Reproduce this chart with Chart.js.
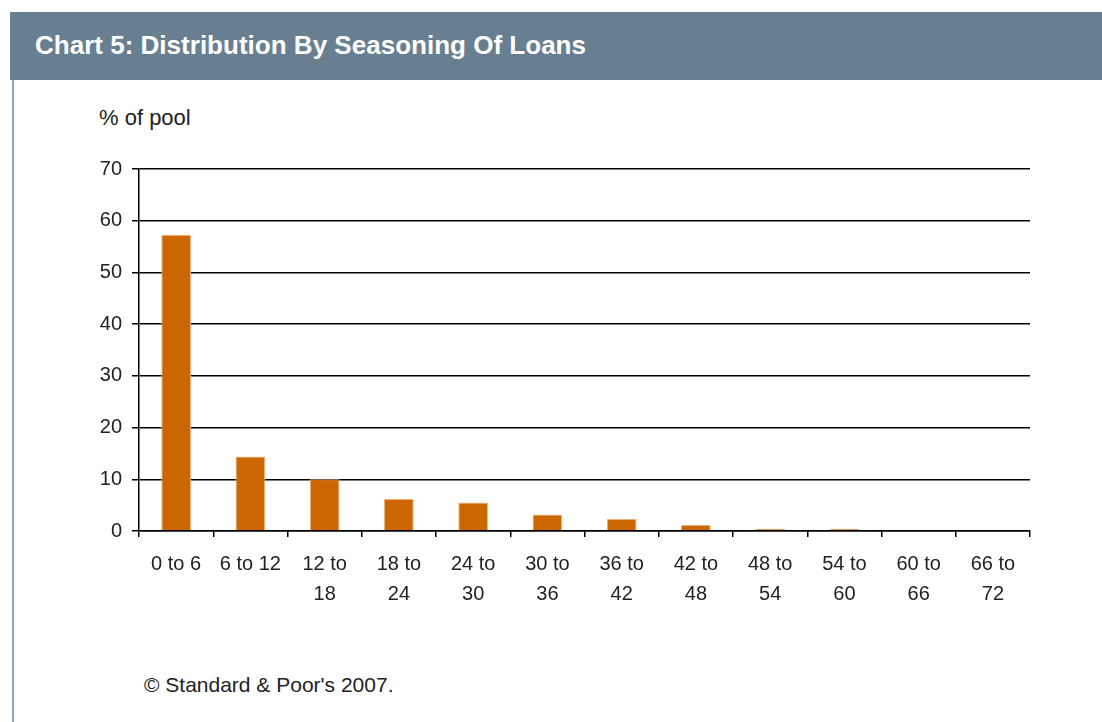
<!DOCTYPE html>
<html>
<head>
<meta charset="utf-8">
<script src="https://cdn.jsdelivr.net/npm/chart.js@4.4.1/dist/chart.umd.min.js"></script>
<style>
  html, body { margin: 0; padding: 0; background: #fff; }
  body { width: 1102px; height: 722px; position: relative; overflow: hidden; font-family: "Liberation Sans", Arial, sans-serif; }
  #titlebar {
    position: absolute; left: 10px; top: 12px; width: 1092px; height: 68px;
    background: #677f91;
  }
  #title {
    position: absolute; left: 25px; top: 0; line-height: 66px; white-space: nowrap;
    color: #fff; font-weight: bold; font-size: 26px; transform-origin: 0 50%;
    font-family: "Liberation Sans", Arial, sans-serif;
  }
  #leftline { position: absolute; left: 12px; top: 80px; width: 2px; height: 642px; background: #93a7b7; }
  #unit { position: absolute; left: 99px; top: 105px; font-size: 22px; line-height: 26px; color: #222; }
  #source { position: absolute; left: 144px; top: 673px; font-size: 21px; line-height: 24px; color: #222; }
  #wrap { position: absolute; left: 0; top: 0; width: 1102px; height: 722px; }
</style>
</head>
<body>
<div id="titlebar"><span id="title">Chart 5: Distribution By Seasoning Of Loans</span></div>
<div id="leftline"></div>
<div id="unit">% of pool</div>
<div id="source">© Standard &amp; Poor's 2007.</div>
<div id="wrap"><canvas id="myChart" width="1102" height="722"></canvas></div>
<script>
// Seasoning buckets (months)
const categories = [
    ['0 to 6'], ['6 to 12'], ['12 to', '18'], ['18 to', '24'], ['24 to', '30'], ['30 to', '36'],
    ['36 to', '42'], ['42 to', '48'], ['48 to', '54'], ['54 to', '60'], ['60 to', '66'], ['66 to', '72']
];
// % of pool
const poolShare = [57.3, 14.4, 10.0, 6.2, 5.5, 3.2, 2.3, 1.2, 0.45, 0.45, 0, 0];
const yTicks = [0, 10, 20, 30, 40, 50, 60, 70];

// squeeze the title to the narrow width of the original
const title = document.getElementById('title');
title.style.transform = 'scaleX(' + (551 / title.getBoundingClientRect().width) + ')';

const ctx = document.getElementById('myChart').getContext('2d');

const myChart = new Chart(ctx, {
    type: 'bar',
    data: {
        labels: categories,
        datasets: [{
            label: '% of pool',
            data: poolShare,
            backgroundColor: '#cc6600',
            borderColor: '#f0b27a',
            borderWidth: 1,
            barPercentage: 0.4,
            categoryPercentage: 1.0
        }]
    },
    options: {
        responsive: false,
        animation: false,
        layout: { padding: { left: 0, right: 72, top: 169, bottom: 0 } },
        plugins: { legend: { display: false }, tooltip: { enabled: false } },
        scales: {
            x: {
                offset: true,
                grid: {
                    offset: true,
                    drawOnChartArea: false,
                    drawTicks: true,
                    tickLength: 6,
                    color: '#000',
                    lineWidth: 1.5
                },
                border: { color: '#000', width: 1.5 },
                ticks: {
                    color: '#222',
                    font: { family: 'Liberation Sans', size: 20, lineHeight: 1.5 },
                    padding: 12,
                    maxRotation: 0,
                    autoSkip: false
                },
                afterFit: (scale) => { scale.height = 191; }
            },
            y: {
                min: 0,
                max: 70,
                afterBuildTicks: (scale) => { scale.ticks = yTicks.map(v => ({ value: v })); },
                grid: {
                    color: '#000',
                    lineWidth: 1.5,
                    tickLength: 7
                },
                border: { color: '#000', width: 1.5 },
                ticks: {
                    color: '#222',
                    font: { family: 'Liberation Sans', size: 20 },
                    padding: 10
                },
                afterFit: (scale) => { scale.width = 139; }
            }
        }
    }
});
</script>
</body>
</html>
